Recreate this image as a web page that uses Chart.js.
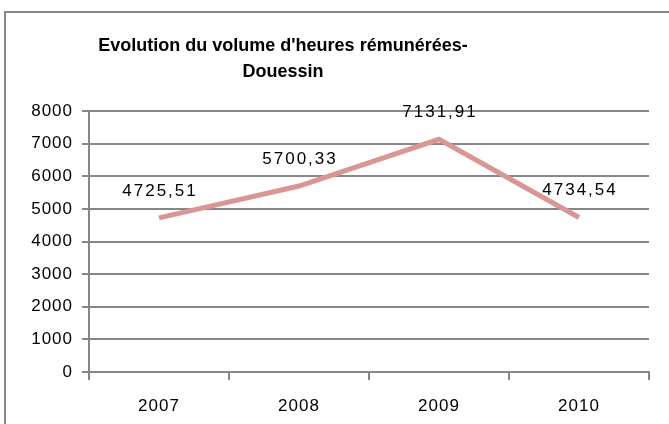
<!DOCTYPE html>
<html>
<head>
<meta charset="utf-8">
<script src="https://cdn.jsdelivr.net/npm/chart.js@4/dist/chart.umd.min.js"></script>
<style>
  html, body { margin: 0; padding: 0; background: #fff; overflow: hidden; }
  #frame { position: absolute; left: 4px; top: 11px; width: 900px; height: 700px; border: 2px solid #878787; box-sizing: border-box; }
  #wrap { position: absolute; left: 0; top: 0; width: 669px; height: 424px; }
</style>
</head>
<body>
<div id="frame"></div>
<div id="wrap"><canvas id="c" width="669" height="424"></canvas></div>
<script>
const categories = ['2007', '2008', '2009', '2010'];
const volumeHeures = [4725.51, 5700.33, 7131.91, 4734.54];
const yTickMin = 0;
const yTickMax = 8000;
const yTickStep = 1000;
const titleLines = ["Evolution du volume d'heures rémunérées-", 'Douessin'];

const LABEL_FONT = '"Liberation Sans", Arial, sans-serif';
const GRID = '#868686';

function fmt(v) { return v.toFixed(2).replace('.', ','); }

const spacingPlugin = {
  id: 'spacing',
  beforeLayout(chart) { chart.ctx.letterSpacing = '1px'; },
  beforeDraw(chart) { chart.ctx.letterSpacing = '1px'; }
};

const titlePlugin = {
  id: 'customTitle',
  afterDraw(chart) {
    const ctx = chart.ctx;
    ctx.save();
    ctx.letterSpacing = '0px';
    ctx.font = 'bold 18px ' + LABEL_FONT;
    ctx.fillStyle = '#000';
    ctx.textAlign = 'center';
    ctx.textBaseline = 'middle';
    const cx = 283;
    ctx.fillText(titleLines[0], cx, 46);
    ctx.fillText(titleLines[1], cx, 72);
    ctx.restore();
  }
};

const dataLabelPlugin = {
  id: 'dataLabels',
  afterDatasetsDraw(chart) {
    const ctx = chart.ctx;
    const meta = chart.getDatasetMeta(0);
    ctx.save();
    ctx.letterSpacing = '2px';
    ctx.font = '17px ' + LABEL_FONT;
    ctx.fillStyle = '#000';
    ctx.textAlign = 'center';
    ctx.textBaseline = 'middle';
    meta.data.forEach((pt, i) => {
      ctx.fillText(fmt(volumeHeures[i]), pt.x + 1, pt.y - 27);
    });
    ctx.restore();
  }
};

new Chart(document.getElementById('c'), {
  type: 'line',
  data: {
    labels: categories,
    datasets: [{
      data: volumeHeures,
      borderColor: '#D99694',
      borderWidth: 5,
      pointRadius: 0,
      tension: 0,
      borderCapStyle: 'butt',
      borderJoinStyle: 'miter',
      fill: false
    }]
  },
  options: {
    responsive: false,
    animation: false,
    devicePixelRatio: 1,
    layout: { padding: { left: 0, right: 20, top: 111, bottom: 0 } },
    plugins: { legend: { display: false }, title: { display: false }, tooltip: { enabled: false } },
    scales: {
      x: {
        offset: true,
        grid: { offset: true, drawOnChartArea: false, drawTicks: true, tickLength: 8, color: GRID, lineWidth: 2 },
        border: { display: true, color: GRID, width: 2 },
        ticks: { color: '#000', font: { family: LABEL_FONT, size: 17 }, padding: 16, maxRotation: 0 },
        afterFit(s) { s.height = 52; }
      },
      y: {
        min: yTickMin,
        max: yTickMax,
        ticks: { stepSize: yTickStep, color: '#000', font: { family: LABEL_FONT, size: 17 }, padding: 9,
                 callback: (v) => String(v) },
        grid: { color: GRID, lineWidth: 2, tickLength: 7 },
        border: { display: true, color: GRID, width: 2 },
        afterFit(s) { s.width = 89; }
      }
    }
  },
  plugins: [spacingPlugin, titlePlugin, dataLabelPlugin]
});
</script>
</body>
</html>
